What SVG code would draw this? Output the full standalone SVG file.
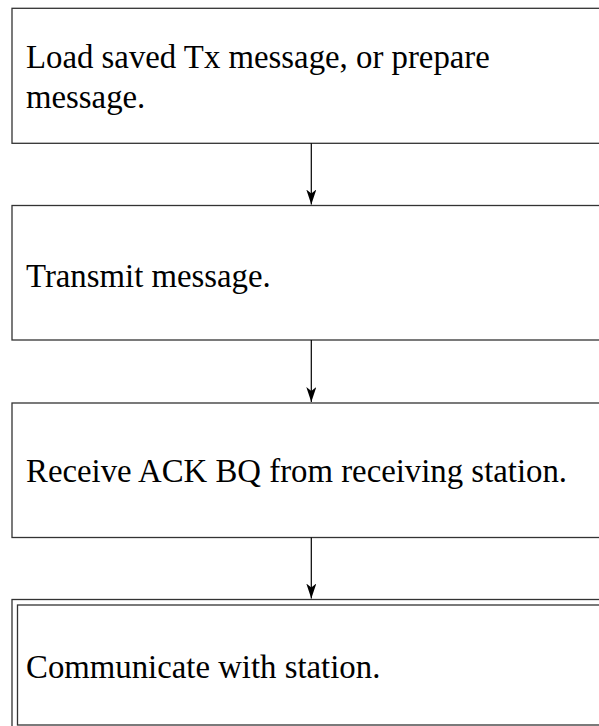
<svg xmlns="http://www.w3.org/2000/svg" width="599" height="726" viewBox="0 0 599 726">
<style>
.box{fill:#fff;stroke:#333;stroke-width:1.3}
.t{font-family:"Liberation Serif","Times New Roman",serif;font-size:32.8px;fill:#000}
.c{stroke:#000;stroke-width:1.2;fill:none}
</style>
<defs>
<marker id="ah" markerUnits="userSpaceOnUse" markerWidth="16" markerHeight="10" refX="15" refY="5" orient="auto" viewBox="0 0 16 10">
<path d="M0,0 L4,5 L0,10 L15,5 Z" fill="#000"/>
</marker>
</defs>
<rect width="599" height="726" fill="#fff"/>
<g id="n1">
<rect class="box" x="12" y="8.3" width="620" height="135"/>
<text class="t" x="26" y="68">Load saved Tx message, or prepare</text>
<text class="t" x="26" y="108">message.</text>
</g>
<g id="n2">
<rect class="box" x="12" y="205.5" width="620" height="134.5"/>
<text class="t" x="26" y="287">Transmit message.</text>
</g>
<g id="n3">
<rect class="box" x="12" y="403" width="620" height="134.5"/>
<text class="t" x="26" y="482">Receive ACK BQ from receiving station.</text>
</g>
<g id="n4">
<rect class="box" x="12" y="599.5" width="620" height="140"/>
<rect class="box" x="17.5" y="605" width="620" height="120"/>
<text class="t" x="26" y="678">Communicate with station.</text>
</g>
<g id="connectors">
<path class="c" d="M311.3,143.3 V204.5" marker-end="url(#ah)"/>
<path class="c" d="M311.3,340 V402" marker-end="url(#ah)"/>
<path class="c" d="M311.3,537.5 V598.5" marker-end="url(#ah)"/>
</g>
</svg>
